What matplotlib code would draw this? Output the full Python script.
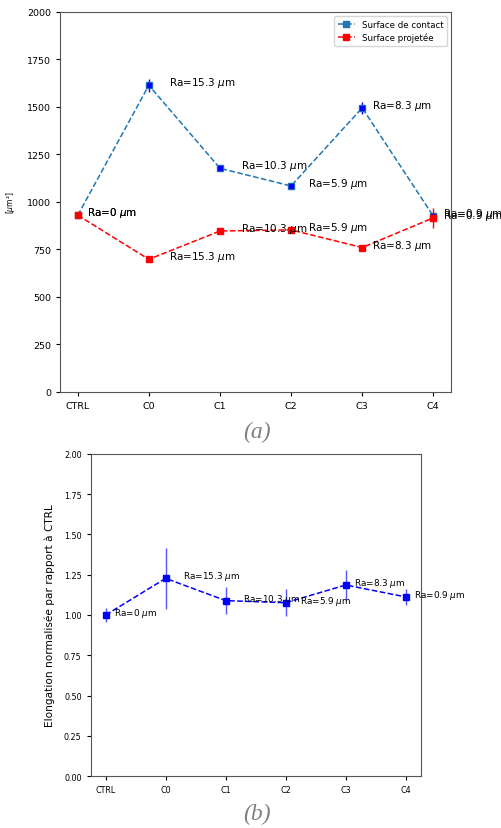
import matplotlib
matplotlib.use("Agg")
import matplotlib.pyplot as plt

# Données
conditions = ["CTRL", "C0", "C1", "C2", "C3", "C4"]
ra_labels = ["Ra=0 $\\mu$m", "Ra=15.3 $\\mu$m", "Ra=10.3 $\\mu$m",
             "Ra=5.9 $\\mu$m", "Ra=8.3 $\\mu$m", "Ra=0.9 $\\mu$m"]

surface_contact = [930, 1614, 1177, 1084, 1495, 926]
err_contact = [12, 35, 15, 12, 32, 15]
surface_projetee = [930, 698, 847, 853, 760, 916]
err_projetee = [10, 10, 10, 10, 12, 53]

elongation = [1.00, 1.227, 1.089, 1.076, 1.186, 1.112]
err_elongation = [0.045, 0.19, 0.083, 0.085, 0.09, 0.047]

# décalage horizontal des étiquettes Ra
decalage = [0.13, 0.28, 0.29, 0.24, 0.14, 0.14]

x = list(range(len(conditions)))

fig = plt.figure(figsize=(5.02, 8.29), dpi=100)

# ---- (a) surfaces ----
ax1 = fig.add_axes([0.1195, 0.526, 0.779, 0.4584])
ax1.errorbar(x, surface_contact, yerr=err_contact, fmt='none', ecolor='b', elinewidth=1)
ax1.plot(x, surface_contact, 's--', color='#1f77b4', markersize=4.5, linewidth=1.1,
         label="Surface de contact")
ax1.plot(x, surface_contact, 's', color='b', markersize=2.2)
ax1.errorbar(x, surface_projetee, yerr=err_projetee, fmt='none', ecolor='r', elinewidth=1)
ax1.plot(x, surface_projetee, 's--', color='r', markersize=4.5, linewidth=1.1,
         label="Surface projetée")
for i in x:
    ax1.text(i + decalage[i], surface_contact[i], ra_labels[i], fontsize=7.5)
    ax1.text(i + decalage[i], surface_projetee[i], ra_labels[i], fontsize=7.5)
ax1.set_ylim(0, 2000)
ax1.set_xticks(x)
ax1.set_xticklabels(conditions)
ax1.set_ylabel("[$\\mu$m²]", fontsize=5.5)
ax1.yaxis.set_label_coords(-0.11, 0.5)
ax1.tick_params(labelsize=6.8, length=3)
ax1.legend(loc='upper right', fontsize=6.2)
for s in ax1.spines.values():
    s.set_color('#555555')

fig.text(0.512, 0.478, "(a)", fontsize=17, family='Liberation Serif',
         style='italic', color='#808080', ha='center', va='center')

# ---- (b) elongation ----
ax2 = fig.add_axes([0.1807, 0.0624, 0.6574, 0.3891])
ax2.errorbar(x, elongation, yerr=err_elongation, fmt='s--', color='b',
             ecolor='#5555ff', elinewidth=1, markersize=4, linewidth=1.1)
for i in x:
    ax2.text(i + decalage[i], elongation[i], ra_labels[i], fontsize=6.4)
ax2.set_ylim(0, 2)
ax2.set_xticks(x)
ax2.set_xticklabels(conditions)
ax2.set_yticks([0, 0.25, 0.5, 0.75, 1.0, 1.25, 1.5, 1.75, 2.0])
ax2.set_yticklabels(["%.2f" % v for v in ax2.get_yticks()])
ax2.set_ylabel("Elongation normalisée par rapport à CTRL", fontsize=7.6)
ax2.yaxis.set_label_coords(-0.108, 0.5)
ax2.tick_params(labelsize=5.8, length=3)
for s in ax2.spines.values():
    s.set_color('#555555')

fig.text(0.512, 0.017, "(b)", fontsize=17, family='Liberation Serif',
         style='italic', color='#808080', ha='center', va='center')

plt.savefig("out.png", dpi=100)
